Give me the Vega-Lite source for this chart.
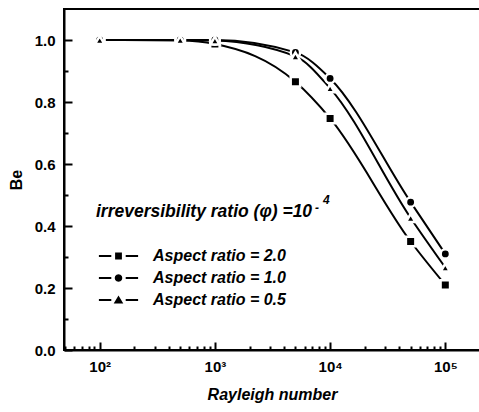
{
  "$schema": "https://vega.github.io/schema/vega-lite/v6.json",
  "width": 416,
  "height": 341,
  "autosize": "none",
  "padding": {"left": 64, "top": 9, "right": 0, "bottom": 62},
  "background": "white",
  "config": {
    "view": {"stroke": "black", "strokeWidth": 2},
    "axis": {
      "domainColor": "black", "domainWidth": 2, "tickColor": "black", "tickWidth": 1.5, "zindex": 1,
      "labelColor": "black", "titleColor": "black", "labelFont": "Liberation Sans", "titleFont": "Liberation Sans",
      "labelFontWeight": "bold", "labelFontSize": 15, "titleFontSize": 16, "titleFontWeight": "bold", "grid": false
    },
    "legend": {
      "orient": "none", "legendX": 46.5, "legendY": 239, "padding": 0, "title": null,
      "labelFont": "Liberation Sans", "labelFontSize": 16, "labelFontStyle": "italic", "labelFontWeight": "bold",
      "labelColor": "black", "symbolSize": 64, "labelOffset": 26.5, "rowPadding": 6,
      "symbolFillColor": "black", "symbolOpacity": 1
    }
  },
  "resolve": {"axis": {"x": "independent", "y": "independent"}, "scale": {"shape": "independent"}},
  "data": {"values": [
    {"Ra": 100, "Be": 1.0, "aspect": "2.0"},
    {"Ra": 500, "Be": 0.998, "aspect": "2.0"},
    {"Ra": 1000, "Be": 0.987, "aspect": "2.0"},
    {"Ra": 5000, "Be": 0.865, "aspect": "2.0"},
    {"Ra": 10000, "Be": 0.747, "aspect": "2.0"},
    {"Ra": 50000, "Be": 0.350, "aspect": "2.0"},
    {"Ra": 100000, "Be": 0.210, "aspect": "2.0"},
    {"Ra": 100, "Be": 1.0, "aspect": "1.0"},
    {"Ra": 500, "Be": 1.0, "aspect": "1.0"},
    {"Ra": 1000, "Be": 1.0, "aspect": "1.0"},
    {"Ra": 5000, "Be": 0.960, "aspect": "1.0"},
    {"Ra": 10000, "Be": 0.876, "aspect": "1.0"},
    {"Ra": 50000, "Be": 0.477, "aspect": "1.0"},
    {"Ra": 100000, "Be": 0.310, "aspect": "1.0"},
    {"Ra": 100, "Be": 1.0, "aspect": "0.5"},
    {"Ra": 500, "Be": 1.0, "aspect": "0.5"},
    {"Ra": 1000, "Be": 0.998, "aspect": "0.5"},
    {"Ra": 5000, "Be": 0.947, "aspect": "0.5"},
    {"Ra": 10000, "Be": 0.844, "aspect": "0.5"},
    {"Ra": 50000, "Be": 0.426, "aspect": "0.5"},
    {"Ra": 100000, "Be": 0.266, "aspect": "0.5"}
  ]},
  "layer": [
    {
      "mark": {"type": "line", "interpolate": "monotone", "color": "black", "strokeWidth": 2},
      "encoding": {
        "x": {
          "field": "Ra", "type": "quantitative",
          "scale": {"type": "log", "domain": [49, 200000], "nice": false},
          "axis": {
            "orient": "bottom", "title": "Rayleigh number", "titleFontStyle": "italic", "titlePadding": 12, "labelPadding": 9,
            "labelFontSize": 15, "labelOverlap": false, "labelFlush": false, "ticks": false,
            "domainColor": "black", "domainWidth": 2, "domainOpacity": 1,
            "values": [100, 1000, 10000, 100000],
            "labelExpr": "datum.value > 50000 ? '10\u2075' : datum.value > 5000 ? '10\u2074' : datum.value > 500 ? '10\u00b3' : '10\u00b2'"
          }
        },
        "y": {
          "field": "Be", "type": "quantitative",
          "scale": {"domain": [0, 1.1], "nice": false, "zero": false},
          "axis": {
            "orient": "left", "title": "Be", "titlePadding": 10, "labelPadding": 9, "labelFontSize": 15,
            "labelOverlap": false, "labelFlush": false, "ticks": false,
            "domainColor": "black", "domainWidth": 2, "domainOpacity": 1,
            "values": [0, 0.2, 0.4, 0.6, 0.8, 1.0], "format": ".1f"
          }
        },
        "detail": {"field": "aspect", "type": "nominal"}
      }
    },
    {
      "mark": {"type": "point", "filled": true, "fill": "black", "stroke": "white", "strokeWidth": 2.5, "opacity": 1},
      "encoding": {
        "x": {
          "field": "Ra", "type": "quantitative",
          "axis": {
            "orient": "bottom", "title": null, "labels": false, "domain": false, "ticks": true, "tickSize": 8, "offset": -8,
            "tickColor": "black", "tickOpacity": 1, "tickWidth": 2,
            "values": [100, 1000, 10000, 100000]
          }
        },
        "y": {
          "field": "Be", "type": "quantitative",
          "axis": {
            "orient": "left", "title": null, "labels": false, "domain": false, "ticks": true, "tickSize": 8, "offset": -8,
            "tickColor": "black", "tickOpacity": 1, "tickWidth": 2,
            "values": [0, 0.2, 0.4, 0.6, 0.8, 1.0]
          }
        },
        "shape": {"field": "aspect", "type": "nominal", "sort": null,
          "scale": {"domain": ["2.0", "1.0", "0.5"], "range": ["square", "circle", "triangle-up"]},
          "legend": null},
        "size": {"field": "aspect", "type": "nominal", "sort": null,
          "scale": {"domain": ["2.0", "1.0", "0.5"], "range": [90, 85, 210]},
          "legend": null}
      }
    },
    {
      "transform": [{"filter": "false"}],
      "mark": {"type": "point", "filled": true, "fill": "black", "size": 64, "opacity": 1},
      "encoding": {
        "x": {"field": "Ra", "type": "quantitative", "axis": null},
        "y": {"field": "Be", "type": "quantitative", "axis": null},
        "shape": {"field": "aspect", "type": "nominal", "sort": null,
          "scale": {"domain": ["2.0", "1.0", "0.5"], "range": [
            "M-4.9,-0.25L-1.8,-0.25L-1.8,0.25L-4.9,0.25ZM1.8,-0.25L4.9,-0.25L4.9,0.25L1.8,0.25ZM-0.85,-0.85L0.85,-0.85L0.85,0.85L-0.85,0.85Z",
            "M-4.9,-0.25L-1.8,-0.25L-1.8,0.25L-4.9,0.25ZM1.8,-0.25L4.9,-0.25L4.9,0.25L1.8,0.25ZM0.95,0L0.823,0.475L0.475,0.823L0,0.95L-0.475,0.823L-0.823,0.475L-0.95,0L-0.823,-0.475L-0.475,-0.823L0,-0.95L0.475,-0.823L0.823,-0.475Z",
            "M-4.9,-0.25L-1.8,-0.25L-1.8,0.25L-4.9,0.25ZM1.8,-0.25L4.9,-0.25L4.9,0.25L1.8,0.25ZM0,-1.15L1.2,0.9L-1.2,0.9Z"]},
          "legend": {"labelExpr": "'Aspect ratio = ' + datum.label"}}
      }
    },
    {
      "data": {"values": [{"t": "irreversibility ratio (\u03c6) =10"}]},
      "mark": {"type": "text", "align": "left", "baseline": "alphabetic", "font": "Liberation Sans", "fontSize": 17.5, "fontStyle": "italic", "fontWeight": "bold", "color": "black"},
      "encoding": {
        "x": {"datum": 92.9, "type": "quantitative", "axis": {
            "orient": "bottom", "title": null, "labels": false, "domain": false, "ticks": true, "tickSize": 4, "offset": -4,
            "tickColor": "black", "tickOpacity": 1, "tickWidth": 2,
            "values": [50,60,70,80,90,200,300,400,500,600,700,800,900,2000,3000,4000,5000,6000,7000,8000,9000,20000,30000,40000,50000,60000,70000,80000,90000,200000]
          }},
        "y": {"datum": 0.429, "type": "quantitative", "axis": {
            "orient": "left", "title": null, "labels": false, "domain": false, "ticks": true, "tickSize": 4, "offset": -4,
            "tickColor": "black", "tickOpacity": 1, "tickWidth": 2,
            "values": [0.1, 0.3, 0.5, 0.7, 0.9]
          }},
        "text": {"field": "t", "type": "nominal"}
      }
    },
    {
      "data": {"values": [{"t": "-"}]},
      "mark": {"type": "text", "align": "left", "baseline": "alphabetic", "font": "Liberation Sans", "fontSize": 12, "fontStyle": "italic", "fontWeight": "bold", "color": "black"},
      "encoding": {
        "x": {"datum": 7393, "type": "quantitative", "axis": null},
        "y": {"datum": 0.445, "type": "quantitative", "axis": null},
        "text": {"field": "t", "type": "nominal"}
      }
    },
    {
      "data": {"values": [{"t": "4"}]},
      "mark": {"type": "text", "align": "left", "baseline": "alphabetic", "font": "Liberation Sans", "fontSize": 12, "fontStyle": "italic", "fontWeight": "bold", "color": "black"},
      "encoding": {
        "x": {"datum": 8678, "type": "quantitative", "axis": null},
        "y": {"datum": 0.471, "type": "quantitative", "axis": null},
        "text": {"field": "t", "type": "nominal"}
      }
    }
  ]
}
